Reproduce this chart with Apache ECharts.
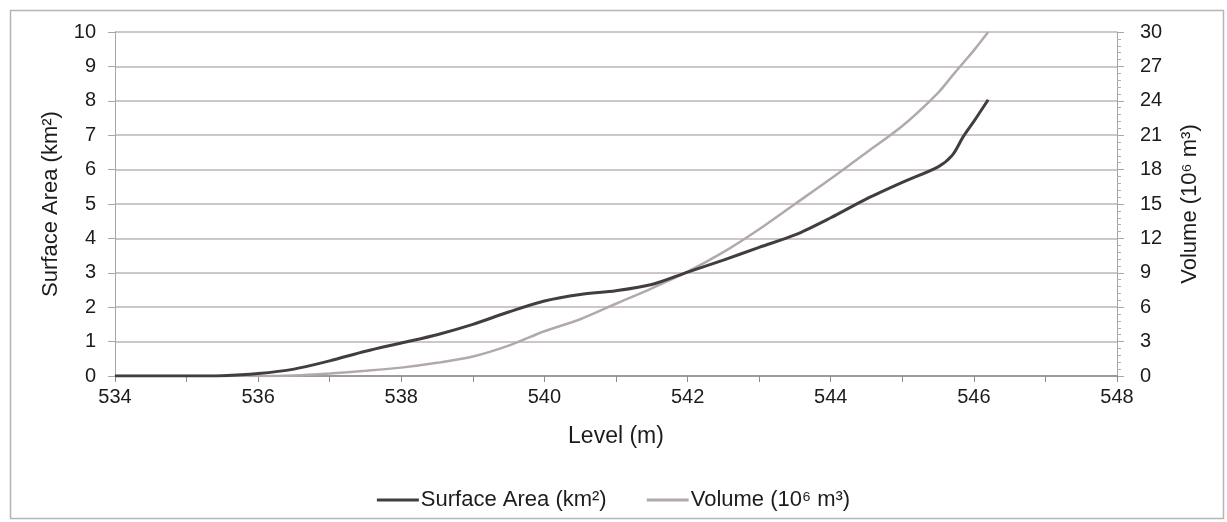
<!DOCTYPE html>
<html><head><meta charset="utf-8">
<script src="https://cdn.jsdelivr.net/npm/echarts@6/dist/echarts.min.js"></script>
<style>html,body{margin:0;padding:0;background:#fff}#c{width:1227px;height:522px}</style>
</head><body><div id="c"></div>
<script>
var levels = [534, 535, 535.5, 536, 536.5, 537, 537.5, 538, 538.5, 539, 539.5, 540, 540.5, 541, 541.5, 542, 542.5, 543, 543.5, 544, 544.5, 545, 545.5, 545.7, 545.85, 546, 546.2];
var surfaceArea = [0, 0, 0.01, 0.07, 0.2, 0.44, 0.72, 0.96, 1.2, 1.5, 1.86, 2.18, 2.37, 2.48, 2.66, 3.02, 3.37, 3.74, 4.1, 4.6, 5.15, 5.63, 6.08, 6.42, 6.95, 7.4, 8.03];
var volume = [0, 0, 0, 0, 0.05, 0.22, 0.45, 0.73, 1.15, 1.7, 2.65, 3.9, 4.95, 6.3, 7.65, 9.1, 10.8, 12.8, 15.0, 17.2, 19.5, 21.8, 24.7, 26.2, 27.3, 28.4, 30];
var seriesNames = ['Surface Area (km²)', 'Volume (10⁶ m³)'];

var font = 'Liberation Sans, Arial, sans-serif';
var txt = '#1c1c1c';
var areaData = levels.map(function (l, i) { return [l, surfaceArea[i]]; });
var volData = levels.map(function (l, i) { return [l, volume[i]]; });

var chart = echarts.init(document.getElementById('c'));
chart.setOption({
  animation: false,
  textStyle: { fontFamily: font },
  graphic: [{
    type: 'rect', left: 8, top: 8, silent: true,
    shape: { width: 1213, height: 508 },
    style: { fill: 'none', stroke: '#b5b5b5', lineWidth: 1.5 }
  }],
  grid: { left: 115, right: 110, top: 32, bottom: 146 },
  legend: {
    top: 484, left: 'center', itemWidth: 42, itemHeight: 3, itemGap: 40,
    icon: 'rect',
    textStyle: { fontFamily: font, fontSize: 22, color: txt, padding: [0, 0, 0, -3] },
    data: seriesNames
  },
  xAxis: {
    type: 'value', min: 534, max: 548, interval: 1,
    name: 'Level (m)', nameLocation: 'middle', nameGap: 49,
    nameTextStyle: { fontSize: 23, color: txt, fontFamily: font },
    axisLine: { show: true, lineStyle: { color: '#8c8c8c', width: 1.5 } },
    axisTick: { show: true, length: 6, lineStyle: { color: '#8c8c8c' } },
    axisLabel: { fontSize: 20, color: txt, margin: 11, fontFamily: font,
      formatter: function (v) { return (v % 2 === 0) ? String(v) : ''; } },
    splitLine: { show: false }
  },
  yAxis: [{
    type: 'value', min: 0, max: 10, interval: 1, position: 'left',
    name: 'Surface Area (km²)', nameLocation: 'middle', nameGap: 53,
    nameTextStyle: { fontSize: 22, color: txt, fontFamily: font },
    axisLine: { show: true, lineStyle: { color: '#a6a6a6' } },
    axisTick: { show: true, length: 7, lineStyle: { color: '#a6a6a6' } },
    axisLabel: { fontSize: 20, color: txt, margin: 19, fontFamily: font },
    splitLine: { show: true, lineStyle: { color: '#bdb5b5', width: 1.5 } }
  }, {
    type: 'value', min: 0, max: 30, interval: 3, position: 'right',
    name: 'Volume (10⁶ m³)', nameLocation: 'middle', nameGap: 62,
    nameRotate: 90,
    nameTextStyle: { fontSize: 22, color: txt, fontFamily: font },
    axisLine: { show: true, lineStyle: { color: '#a6a6a6' } },
    axisTick: { show: true, length: 7, lineStyle: { color: '#a6a6a6' } },
    minorTick: { show: true, splitNumber: 5, length: 4, lineStyle: { color: '#b0b0b0' } },
    axisLabel: { fontSize: 20, color: txt, margin: 23, fontFamily: font },
    splitLine: { show: false }
  }],
  series: [{
    name: seriesNames[0], type: 'line', yAxisIndex: 0, data: areaData,
    smooth: 0.3, showSymbol: false, symbol: 'none',
    lineStyle: { color: '#423e3e', width: 3 }, itemStyle: { color: '#423e3e' }, z: 3
  }, {
    name: seriesNames[1], type: 'line', yAxisIndex: 1, data: volData,
    smooth: 0.3, showSymbol: false, symbol: 'none',
    lineStyle: { color: '#b2aaaa', width: 2.5 }, itemStyle: { color: '#b2aaaa' }, z: 2
  }]
});
</script></body></html>
